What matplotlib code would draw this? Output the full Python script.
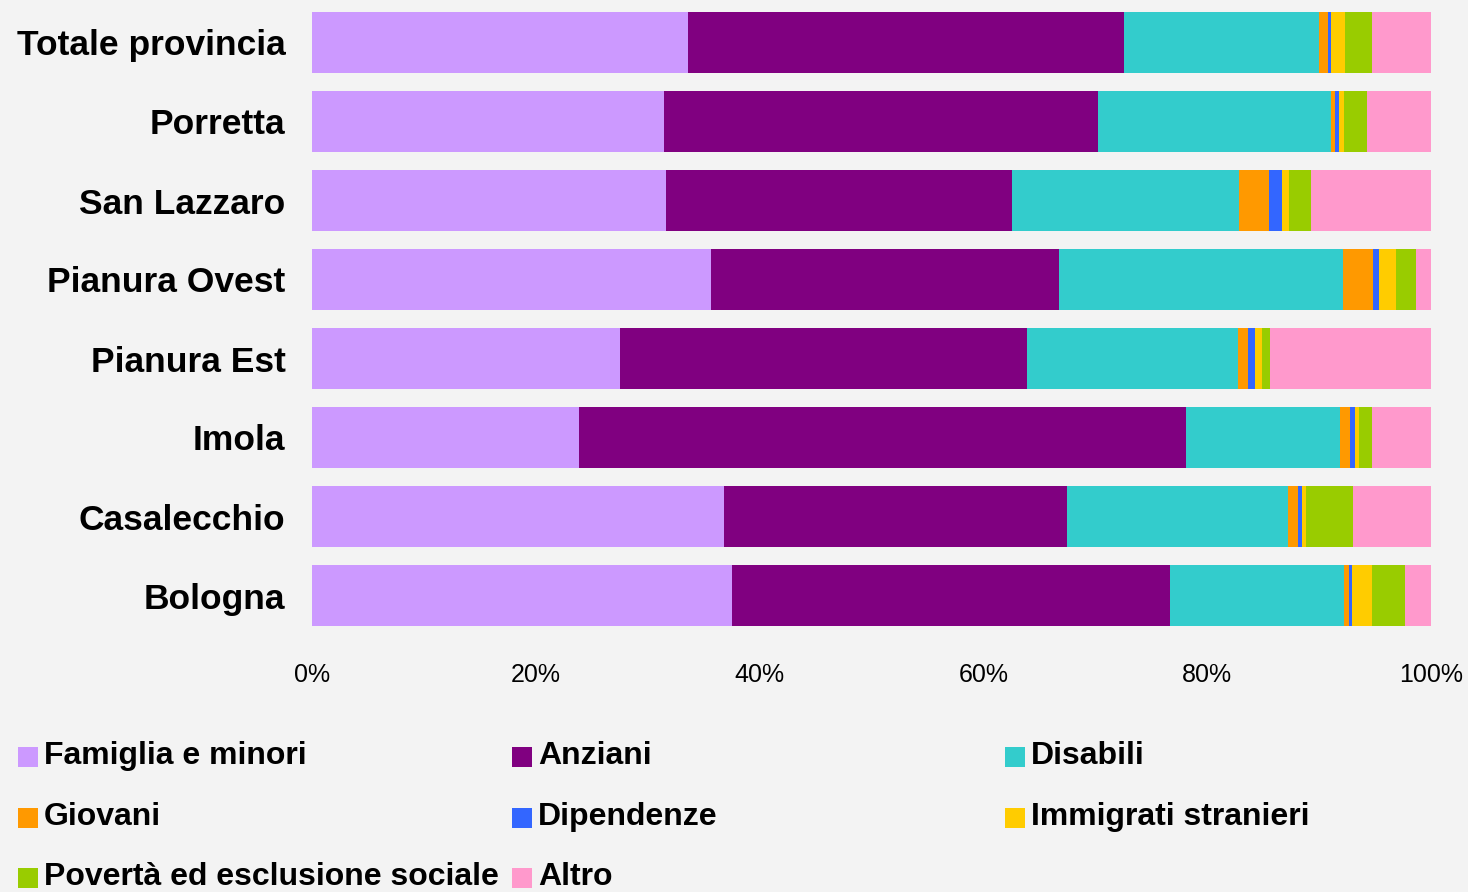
import numpy as np
import matplotlib
matplotlib.use("Agg")
import matplotlib.pyplot as plt
from matplotlib.patches import Rectangle

# Areas (bottom to top, as drawn)
areas = ["Bologna", "Casalecchio", "Imola", "Pianura Est",
         "Pianura Ovest", "San Lazzaro", "Porretta", "Totale provincia"]

# Share of each target group, % per area (same order as areas)
famiglia = [37.5, 36.8, 23.9, 27.5, 35.6, 31.6, 31.5, 33.6]
anziani = [39.1, 30.7, 54.2, 36.3, 31.1, 30.9, 38.7, 39.0]
disabili = [15.6, 19.8, 13.8, 18.9, 25.3, 20.3, 20.9, 17.4]
giovani = [0.45, 0.9, 0.9, 0.9, 2.7, 2.6, 0.35, 0.8]
dipendenze = [0.2, 0.3, 0.45, 0.6, 0.6, 1.2, 0.3, 0.3]
immigrati = [1.8, 0.35, 0.35, 0.6, 1.5, 0.6, 0.45, 1.25]
poverta = [3.0, 4.2, 1.15, 0.7, 1.8, 2.0, 2.1, 2.4]
altro = [2.3, 7.0, 5.3, 14.4, 1.3, 10.7, 5.7, 5.3]

series = [famiglia, anziani, disabili, giovani, dipendenze, immigrati, poverta, altro]
labels = ["Famiglia e minori", "Anziani", "Disabili", "Giovani", "Dipendenze",
          "Immigrati stranieri", "Povertà ed esclusione sociale", "Altro"]
colors = ["#CC99FF", "#800080", "#33CCCC", "#FF9900", "#3366FF",
          "#FFCC00", "#99CC00", "#FF99CC"]

font = ["Liberation Sans", "DejaVu Sans"]
bg = "#f3f3f3"

fig = plt.figure(figsize=(14.68, 8.92), dpi=100, facecolor=bg)
ax = fig.add_axes([312 / 1468, 1 - 635 / 892, (1431 - 312) / 1468, 632 / 892])
ax.set_facecolor(bg)

y = np.arange(len(areas))
data = np.array(series, dtype=float)
data = data / data.sum(axis=0) * 100
left = np.zeros(len(areas))
for vals, col in zip(data, colors):
    ax.barh(y, vals, left=left, height=0.77, color=col, edgecolor="none")
    left += vals

ax.set_xlim(0, 100)
ax.set_ylim(-0.5, len(areas) - 0.5)
ax.set_xticks(np.arange(0, 101, 20))
ax.set_xticklabels([f"{v}%" for v in range(0, 101, 20)], family=font, fontsize=18)
ax.set_yticks(y)
ax.set_yticklabels(areas, family=font, fontsize=25.5, fontweight="bold")
ax.tick_params(axis="both", length=0)
ax.tick_params(axis="x", pad=20)
ax.tick_params(axis="y", pad=19)
for s in ax.spines.values():
    s.set_visible(False)

# legend, three columns filled row by row
col_x = [18, 512, 1005]
row_y = [756, 817, 877]
for i, (lab, col) in enumerate(zip(labels, colors)):
    cx = col_x[i % 3]
    cy = row_y[i // 3]
    fig.add_artist(Rectangle((cx / 1468, 1 - (cy + 11) / 892), 20 / 1468, 20 / 892,
                             transform=fig.transFigure, facecolor=col, edgecolor="none"))
    fig.text((cx + 26) / 1468, 1 - cy / 892, lab, family=font, fontsize=23,
             fontweight="bold", va="center", ha="left")

fig.savefig("out.png", dpi=100, facecolor=bg)
